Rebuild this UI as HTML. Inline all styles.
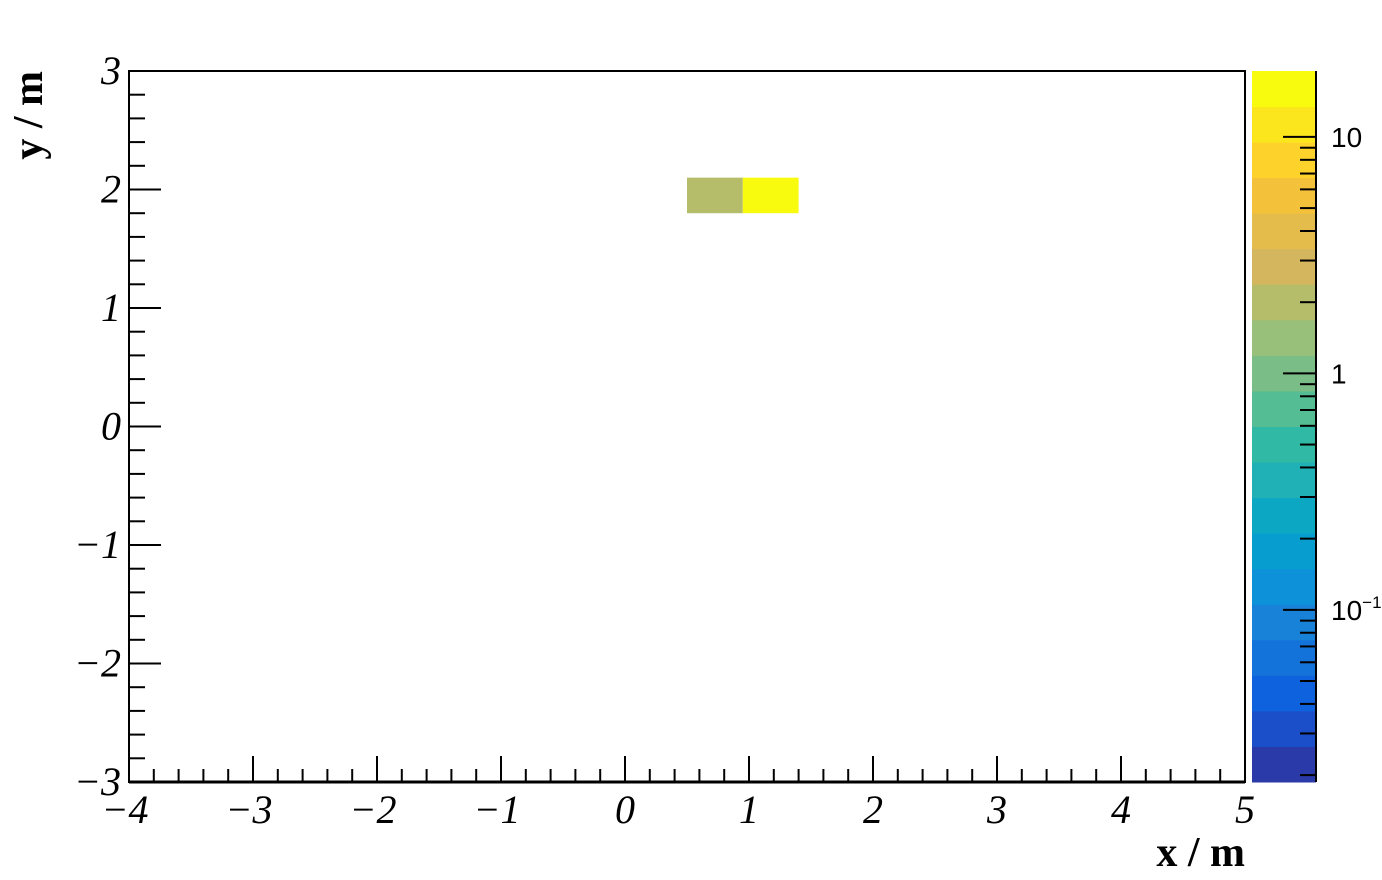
<!DOCTYPE html>
<html><head><meta charset="utf-8"><style>
html,body{margin:0;padding:0;background:#fff;}
svg{display:block;}
</style></head><body>
<svg id="c" width="1382" height="880" xmlns="http://www.w3.org/2000/svg"></svg>
<script>
const xEdges=[0.5,0.95,1.4];
const cellsX=[0.5,0.95];
const cellsY=[1.8,1.8];
const cellValues=[2.0,19.0];
const binW=0.45, binH=0.3;
const xTicks=[-4,-3,-2,-1,0,1,2,3,4,5];
const yTicks=[-3,-2,-1,0,1,2,3];
const zMajor=[0.1,1,10];
const zLabels=["10","1","10"];
const zSup=["\u22121","",""];
const palette=["#2a3aa8","#1a4fc9","#0f62dd","#1473db","#1782d8","#0d91d8","#079dce","#0ca8c3","#1fb1b5","#30b9a4","#55bd93","#7abd86","#98c07a","#b5bd6a","#d3b65e","#e3bc4c","#f4c13a","#fdd22a","#fbe61e","#f9fb0e"];
const zMin=0.0187, zMax=19.0;

const svg=document.getElementById('c');
const NS='http://www.w3.org/2000/svg';
const L=129,R=1245,T=71,B=782;
const X=v=>L+(v+4)/9*(R-L);
const Y=v=>B-(v+3)/6*(B-T);
const ZT=71,ZB=782,ZL=1252,ZR=1316;
const lz=Math.log10(zMin),hz=Math.log10(zMax);
const Z=v=>ZB-(Math.log10(v)-lz)/(hz-lz)*(ZB-ZT);
function el(t,a,p){const e=document.createElementNS(NS,t);for(const k in a)e.setAttribute(k,a[k]);(p||svg).appendChild(e);return e;}
function colorFor(v){let i=Math.floor((Math.log10(v)-lz)/(hz-lz)*palette.length);i=Math.max(0,Math.min(palette.length-1,i));return palette[i];}

cellValues.forEach((v,i)=>{
  const r=el('rect',{x:X(cellsX[i]),y:Y(cellsY[i]+binH),width:X(cellsX[i]+binW)-X(cellsX[i]),height:Y(cellsY[i])-Y(cellsY[i]+binH),fill:colorFor(v)});
  
  
});
const fr=el('rect',{x:L,y:T,width:R-L,height:B-T,fill:'none',stroke:'#000','stroke-width':2});


el('line',{x1:L,y1:B,x2:R,y2:B,stroke:'#000','stroke-width':3});
const gx=el('g',{});


for(let i=0;i<xTicks.length;i++){
  const v=xTicks[i];
  el('line',{x1:X(v),y1:B,x2:X(v),y2:B-26,stroke:'#000','stroke-width':2},gx);
  if(i<xTicks.length-1)for(let k=1;k<5;k++){const m=v+k*0.2;el('line',{x1:X(m),y1:B,x2:X(m),y2:B-13,stroke:'#000','stroke-width':2},gx);}
  const t=el('text',{x:X(v)+(v<0?-4:0),y:B+41,'text-anchor':'middle','font-family':'Liberation Serif, serif','font-style':'italic','font-size':40},gx);
  t.textContent=v<0?'\u2212'+(-v):String(v);
  
  
}
const gy=el('g',{});


for(let i=0;i<yTicks.length;i++){
  const v=yTicks[i];
  el('line',{x1:L,y1:Y(v),x2:L+32,y2:Y(v),stroke:'#000','stroke-width':2},gy);
  if(i<yTicks.length-1)for(let k=1;k<5;k++){const m=v+k*0.2;el('line',{x1:L,y1:Y(m),x2:L+16,y2:Y(m),stroke:'#000','stroke-width':2},gy);}
  const t=el('text',{x:L-8,y:Y(v)+13,'text-anchor':'end','font-family':'Liberation Serif, serif','font-style':'italic','font-size':40},gy);
  t.textContent=v<0?'\u2212'+(-v):String(v);
  
  
}
const xt=el('text',{x:R,y:866,'text-anchor':'end','font-family':'Liberation Serif, serif','font-weight':'bold','font-size':42});
xt.textContent='x / m';


const yt=el('text',{x:0,y:0,'text-anchor':'end','font-family':'Liberation Serif, serif','font-weight':'bold','font-size':42,transform:'translate(42,71) rotate(-90)'});
yt.textContent='y / m';


const gz=el('g',{});


const n=palette.length;
palette.forEach((c,i)=>{
  const y0=ZB-(i+1)*(ZB-ZT)/n;
  el('rect',{x:ZL,y:y0,width:ZR-ZL,height:(ZB-ZT)/n+0.5,fill:c},gz);
});
el('line',{x1:ZR,y1:ZT,x2:ZR,y2:ZB,stroke:'#000','stroke-width':2},gz);
for(let d=-2;d<=1;d++){
  for(let k=1;k<10;k++){
    const v=k*Math.pow(10,d);
    if(v<zMin||v>zMax)continue;
    el('line',{x1:ZR,y1:Z(v),x2:ZR-(k===1?33:16),y2:Z(v),stroke:'#000','stroke-width':2},gz);
  }
}
zMajor.forEach((v,i)=>{
  const t=el('text',{x:1331,y:Z(v)+10,'font-family':'Liberation Sans, sans-serif','font-size':28},gz);
  t.textContent=zLabels[i];
  if(zSup[i]){const s=el('tspan',{dy:-12,'font-size':17},t);s.textContent=zSup[i];}
  
  
});
</script>
</body></html>
